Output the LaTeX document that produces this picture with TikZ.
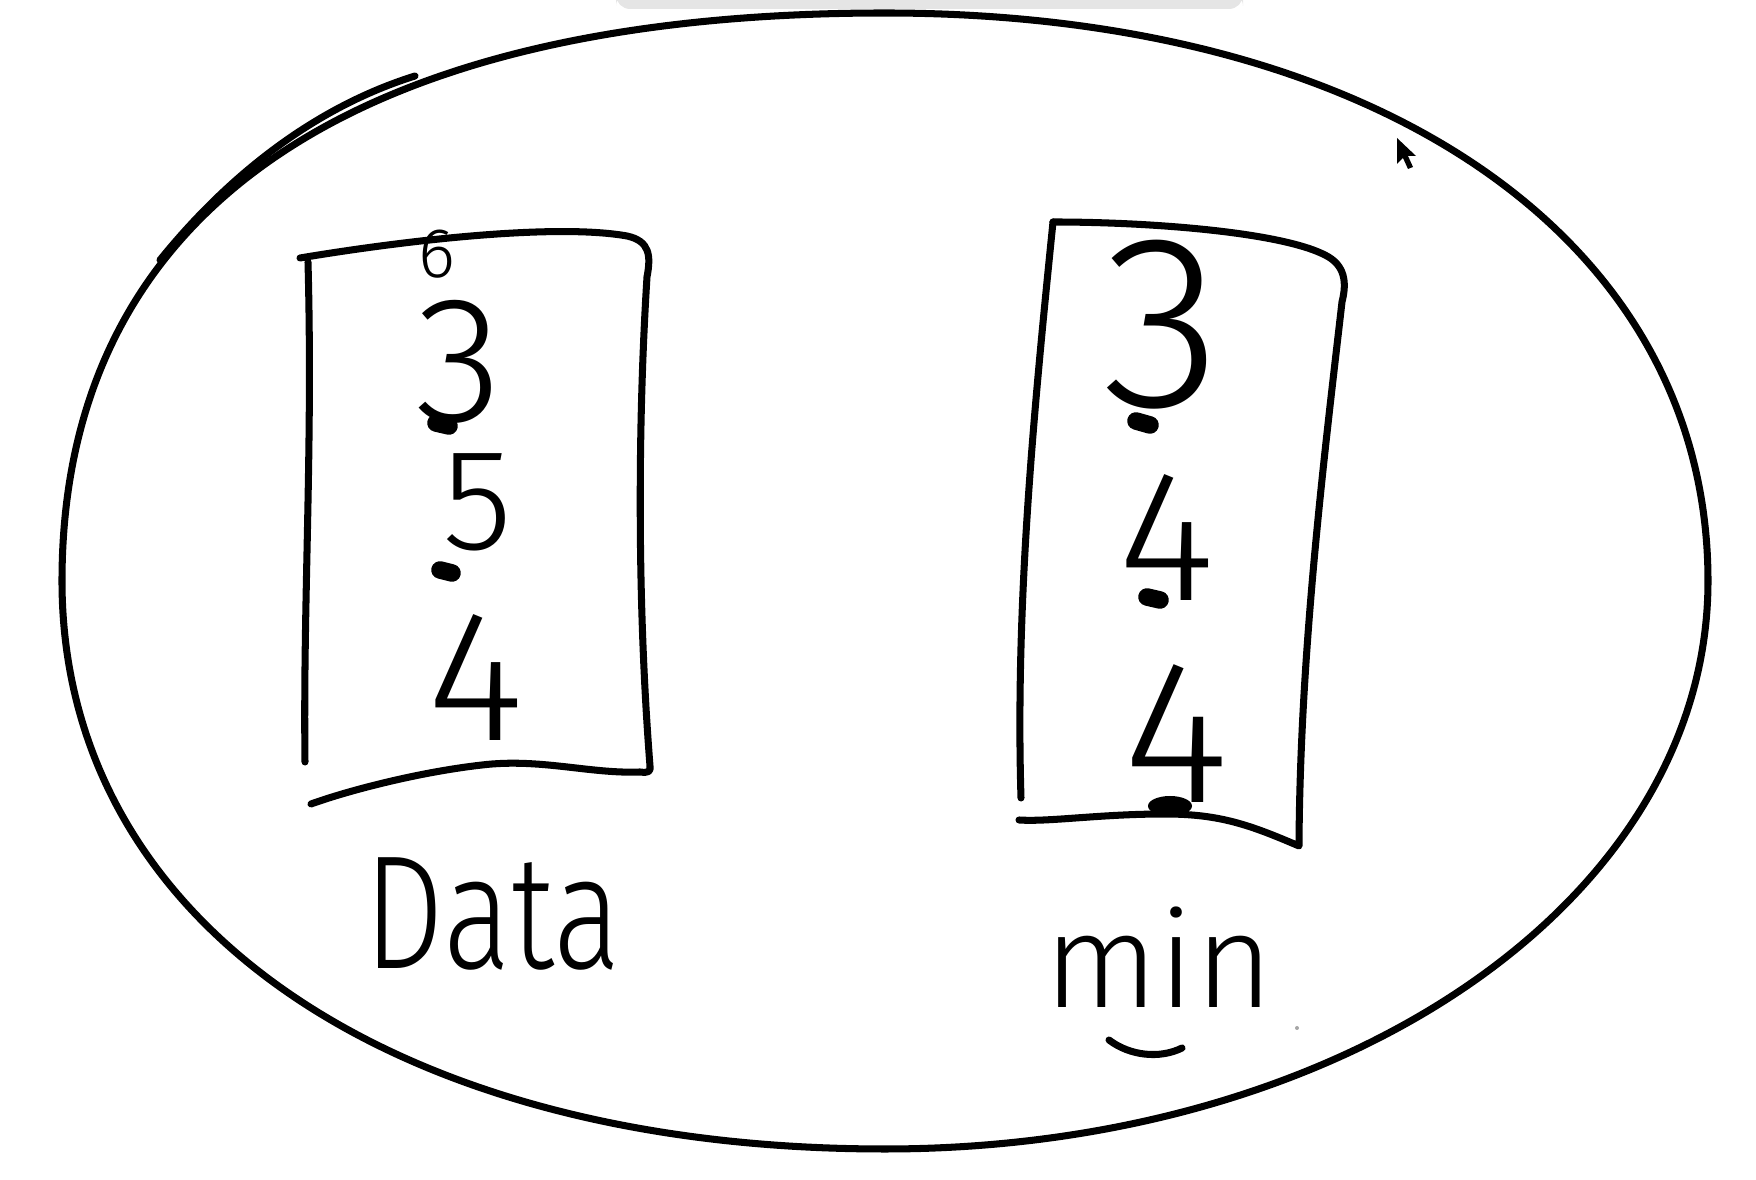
\documentclass[tikz,border=0pt]{standalone}
\usepackage{fontspec}
\setmainfont{Fira Sans}[UprightFont=* Light]
\usetikzlibrary{positioning}
\tikzset{
  pen/.style={line width=2pt, line cap=round, line join=round},
  digit/.style={inner sep=0pt, font=\fontsize{#1}{#1}\selectfont},
  blob/.style={line width=5pt, line cap=round},
  word/.style={inner sep=0pt, anchor=base, font=\fontsize{#1}{#1}\selectfont}
}

\begin{document}
\begin{tikzpicture}[x=0.01cm,y=-0.01cm]
  \useasboundingbox (0,0) rectangle (1756,1180);

  % screen bar and pointer
  \fill[black!10, rounded corners=4] (616,-8) rectangle (1243,9);
  \fill (1397,138) -- (1397,164) -- (1403,158) -- (1408,169) -- (1413,167)
    -- (1408,156) -- (1416,156) -- cycle;

  % outer ellipse
  \draw[pen] (62,581) .. controls (62,212) and (350,13) .. (885,13)
    .. controls (1379,13) and (1708,240) .. (1708,581)
    .. controls (1708,899) and (1346,1149) .. (885,1149)
    .. controls (391,1149) and (62,922) .. (62,581) -- cycle;
  \draw[pen] (160,260) .. controls (215,192) and (300,112) .. (415,76);

  % left box
  \draw[pen] (308,262) .. controls (313,450) and (303,600) .. (305,762);
  \draw[pen] (300,258) .. controls (420,238) and (560,224) .. (627,236)
    .. controls (650,241) and (651,256) .. (647,277)
    .. controls (638,420) and (637,600) .. (650,766)
    .. controls (651,772) and (648,773) .. (640,772)
    .. controls (590,774) and (540,758) .. (482,765)
    .. controls (420,772) and (350,790) .. (311,804);

  \node[digit=20] (d6) at (437,254) {6};
  \node[digit=51] (d3) at (459,362) {3};
  \draw[blob] (436,423) -- (449,426);
  \node[digit=41] (d5) at (478,502) {5};
  \draw[blob] (440,570) -- (452,573);
  \node[digit=53] (d4) at (476,678) {4};

  % right box
  \draw[pen] (1053,222) .. controls (1035,400) and (1015,600) .. (1021,798);
  \draw[pen] (1053,222) .. controls (1150,222) and (1280,232) .. (1325,255)
    .. controls (1345,265) and (1347,282) .. (1342,302)
    .. controls (1325,450) and (1300,650) .. (1299,846)
    .. controls (1250,825) and (1220,814) .. (1165,814)
    .. controls (1100,814) and (1050,822) .. (1019,820);

  \node[digit=70] (m3) at (1162,325) {3};
  \draw[blob] (1136,421) -- (1150,425);
  \node[digit=53] (m4a) at (1167,538) {4};
  \draw[blob] (1147,597) -- (1160,600);
  \node[digit=58] (m4b) at (1176,734) {4};
  \fill (1170,806) ellipse (22 and 10);

  % labels
  \node[word=46] (lbldata) at (493,969) {\scalebox{0.78}[1]{Data}};
  \node[word=38] (lblmin) at (1159,1008) {min};
  \draw[pen] (1109,1040) .. controls (1130,1056) and (1160,1059) .. (1182,1048);
  \fill[black!35] (1297,1028) circle (2);
\end{tikzpicture}
\end{document}
